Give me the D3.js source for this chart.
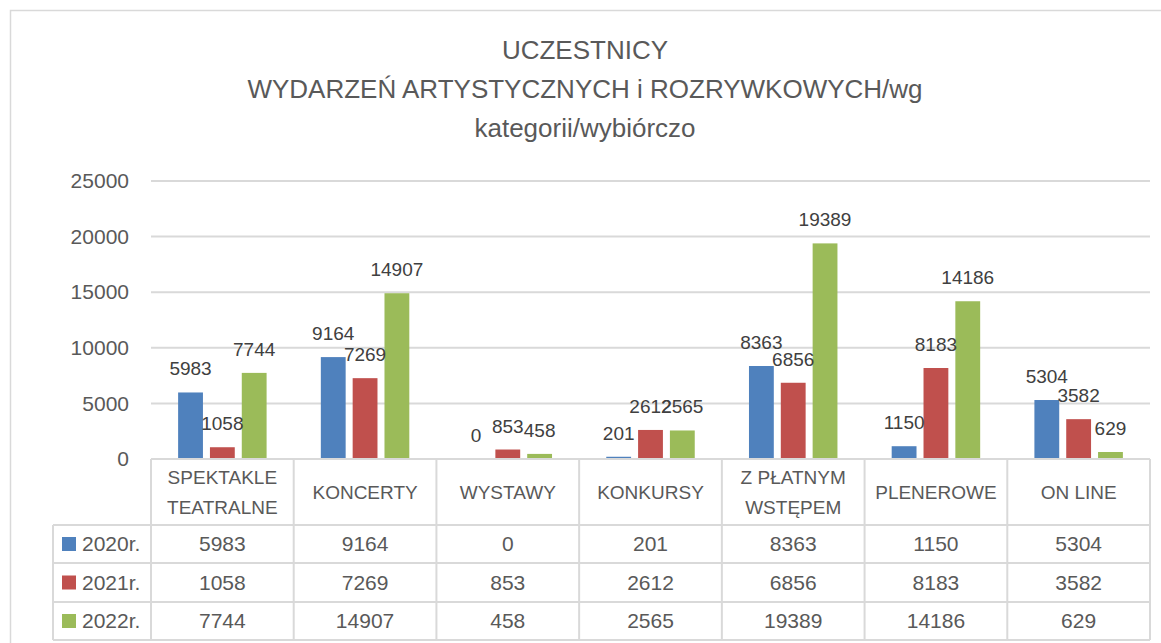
<!DOCTYPE html>
<html><head><meta charset="utf-8">
<script src="https://cdn.jsdelivr.net/npm/d3@7"></script>
<style>
html,body{margin:0;padding:0;background:#fff;}
svg{display:block;font-family:"Liberation Sans",Arial,sans-serif;}
</style></head>
<body>
<svg id="chart" width="1161" height="643"></svg>
<script>
const categories = [["SPEKTAKLE","TEATRALNE"],["KONCERTY"],["WYSTAWY"],["KONKURSY"],["Z PŁATNYM","WSTĘPEM"],["PLENEROWE"],["ON LINE"]];
const seriesNames = ["2020r.","2021r.","2022r."];
const values2020 = [5983, 9164, 0, 201, 8363, 1150, 5304];
const values2021 = [1058, 7269, 853, 2612, 6856, 8183, 3582];
const values2022 = [7744, 14907, 458, 2565, 19389, 14186, 629];
const yTicks = [0, 5000, 10000, 15000, 20000, 25000];
const titleLines = ["UCZESTNICY","WYDARZEŃ ARTYSTYCZNYCH i ROZRYWKOWYCH/wg","kategorii/wybiórczo"];
const colors = ["#4F81BD","#C0504D","#9BBB59"];

const seriesValues = [values2020, values2021, values2022];
const catKeys = categories.map(c => c.join(" "));

const svg = d3.select("#chart");
const grid = "#d9d9d9";
const textCol = "#595959";

// outer border
svg.append("rect").attr("x",10.5).attr("y",10.5).attr("width",1165).attr("height",650)
  .attr("fill","none").attr("stroke",grid).attr("stroke-width",1.5);

// title
const title = svg.append("text").attr("text-anchor","middle").attr("fill",textCol).attr("font-size",26);
titleLines.forEach((t,i)=>{
  title.append("tspan").attr("x",585).attr("y",59 + i*39).text(t);
});

const left = 151, right = 1150, y0 = 459, yTop = 181;
const x0 = d3.scaleBand().domain(catKeys).range([left,right]);
const bw = x0.bandwidth();
const x1 = d3.scaleBand().domain(seriesNames).range([bw*0.19, bw*0.81]).paddingInner(0.22);
const y = d3.scaleLinear().domain([0,25000]).range([y0,yTop]);

// gridlines
svg.append("g").selectAll("line").data(yTicks).join("line")
  .attr("x1",left).attr("x2",right).attr("y1",d=>y(d)).attr("y2",d=>y(d))
  .attr("stroke",grid).attr("stroke-width",2);

// y axis labels
const yAxis = d3.axisLeft(y).tickValues(yTicks).tickSize(0).tickPadding(0).tickFormat(d3.format("d"));
const ya = svg.append("g").attr("transform",`translate(129,0)`).call(yAxis);
ya.select(".domain").remove();
ya.selectAll("text").attr("fill",textCol).attr("font-size",21).attr("font-family","Liberation Sans, Arial, sans-serif");

// bars
const groups = svg.append("g").selectAll("g").data(catKeys).join("g")
  .attr("transform",d=>`translate(${x0(d)},0)`);
seriesNames.forEach((s,si)=>{
  groups.append("rect")
    .attr("x",x1(s)).attr("width",x1.bandwidth())
    .attr("y",(d,i)=>y(seriesValues[si][i]))
    .attr("height",(d,i)=>y0 - y(seriesValues[si][i]))
    .attr("fill",colors[si]);
});
// data labels
seriesNames.forEach((s,si)=>{
  groups.append("text")
    .attr("x",x1(s)+x1.bandwidth()/2)
    .attr("y",(d,i)=>y(seriesValues[si][i]) - 17)
    .attr("text-anchor","middle").attr("font-size",19).attr("fill","#404040")
    .text((d,i)=>seriesValues[si][i]);
});

// data table
const rowTops = [525, 563, 602, 640];
const tableLeft = 53;
const tl = svg.append("g").attr("stroke",grid).attr("stroke-width",2);
// horizontal lines
tl.append("line").attr("x1",left).attr("x2",right).attr("y1",y0).attr("y2",y0);
rowTops.forEach(r=>{
  tl.append("line").attr("x1",tableLeft).attr("x2",right).attr("y1",r).attr("y2",r);
});
// vertical lines
const bounds = catKeys.map(k=>x0(k)).concat([right]);
bounds.forEach(bx=>{
  tl.append("line").attr("x1",bx).attr("x2",bx).attr("y1",y0).attr("y2",640);
});
tl.append("line").attr("x1",tableLeft).attr("x2",tableLeft).attr("y1",525).attr("y2",640);

// header labels
const hdr = svg.append("g").selectAll("text").data(categories).join("text")
  .attr("text-anchor","middle").attr("fill",textCol).attr("font-size",19);
hdr.each(function(c,i){
  const cx = x0(catKeys[i]) + bw/2;
  const t = d3.select(this);
  if(c.length===1){
    t.append("tspan").attr("x",cx).attr("y",499).text(c[0]);
  } else {
    t.append("tspan").attr("x",cx).attr("y",484).text(c[0]);
    t.append("tspan").attr("x",cx).attr("y",514).text(c[1]);
  }
});

// rows
seriesNames.forEach((s,si)=>{
  const cy = (rowTops[si]+rowTops[si+1])/2;
  svg.append("rect").attr("x",62).attr("y",cy-7).attr("width",14).attr("height",14).attr("fill",colors[si]);
  svg.append("text").attr("x",82).attr("y",cy+7).attr("font-size",21).attr("fill",textCol).text(s);
  svg.append("g").selectAll("text").data(catKeys).join("text")
    .attr("x",d=>x0(d)+bw/2).attr("y",cy+7).attr("text-anchor","middle")
    .attr("font-size",21).attr("fill",textCol)
    .text((d,i)=>seriesValues[si][i]);
});
</script>
</body></html>
